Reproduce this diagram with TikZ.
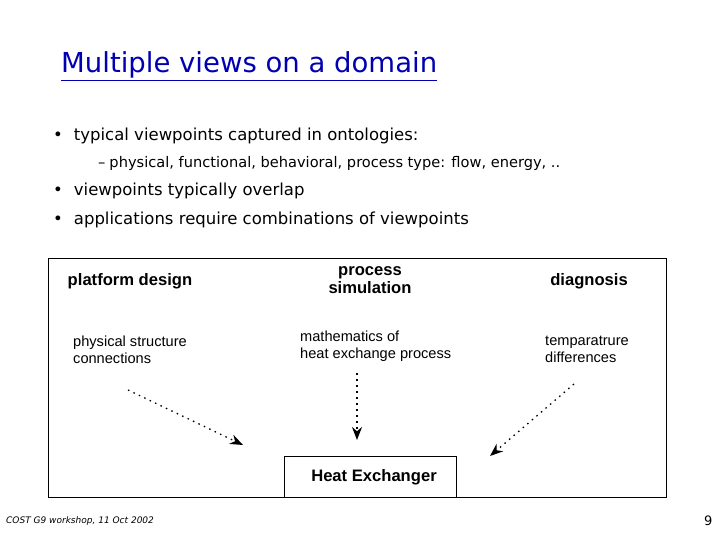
\documentclass[tikz,border=0pt]{standalone}
\usepackage{fontspec}
\setmainfont{DejaVu Sans}
\newfontfamily\arial{Liberation Sans}
\usetikzlibrary{arrows.meta}
\begin{document}
\begin{tikzpicture}[x=1pt,y=-1pt,
  every node/.style={inner sep=0pt,anchor=west},
  bul/.style={font=\fontsize{16.5}{19}\selectfont},
  sub/.style={font=\fontsize{14.6}{17}\selectfont},
  hd/.style={font=\arial\bfseries\fontsize{16.6}{18.5}\selectfont,align=center,anchor=center},
  lb/.style={font=\arial\fontsize{14.6}{16.5}\selectfont,align=left,anchor=north west},
  dotarrow/.style={line width=1.3pt,dash pattern=on 1.5pt off 4.5pt,-{Stealth[length=13pt,width=10pt]}}]
\useasboundingbox (0,0) rectangle (720,540);
\node[font=\fontsize{27.5}{30}\selectfont,text=blue!70!black] (title) at (61,66) {\underline{Multiple views on a domain}};
\node[bul] (b1) at (53,136) {•\hspace{11pt}typical viewpoints captured in ontologies:};
\node[sub] (s1) at (98,163) {–\hspace{4pt}physical, functional, behavioral, process type: flow, energy, ..};
\node[bul] (b2) at (53,191) {•\hspace{11pt}viewpoints typically overlap};
\node[bul] (b3) at (53,220) {•\hspace{11pt}applications require combinations of viewpoints};
\draw[line width=0.8pt] (48,258) rectangle (666,497);
\node[hd] (pd) at (130,281) {platform design};
\node[hd] (ps) at (370,280) {process\\simulation};
\node[hd] (dg) at (589,281) {diagnosis};
\node[lb] (l1) at (73,336) {physical structure\\connections};
\node[lb] (l2) at (300,331) {mathematics of\\heat exchange process};
\node[lb] (l3) at (545,336) {temparatrure\\differences};
\node[draw,line width=0.8pt,minimum width=172pt,minimum height=41pt,anchor=north west] (he) at (284,456) {};
\node[font=\arial\bfseries\fontsize{16.6}{18.5}\selectfont,anchor=center] (het) at (374,477) {Heat Exchanger};
\coordinate (a1) at (128,390); \coordinate (a1e) at (243,445);
\coordinate (a2) at (357,373); \coordinate (a2e) at (357,440);
\coordinate (a3) at (574,384); \coordinate (a3e) at (490,456);
\draw[dotarrow] (a1) -- (a1e);
\draw[dotarrow] (a2) -- (a2e);
\draw[dotarrow] (a3) -- (a3e);
\node[font=\itshape\fontsize{9}{10}\selectfont] (ft) at (6,521) {COST G9 workshop, 11 Oct 2002};
\node[font=\fontsize{13}{15}\selectfont] (pg) at (704,521) {9};
\end{tikzpicture}
\end{document}
